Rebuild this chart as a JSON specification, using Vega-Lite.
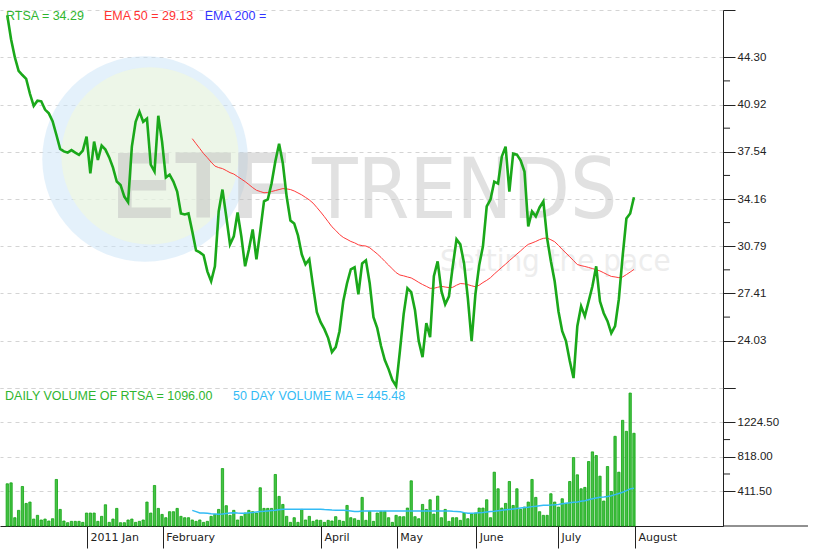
{
  "$schema": "https://vega.github.io/schema/vega-lite/v6.json",
  "padding": {"left": 0, "top": 9, "right": 0, "bottom": 0},
  "background": "white",
  "config": {"view": {"stroke": null}},
  "spacing": 0,
  "bounds": "flush",
  "datasets": {
    "d": [
      {"day":0,"close":47.30,"volume":499},{"day":1,"close":45.59,"volume":510},{"day":2,"close":44.30,"volume":98},{"day":3,"close":43.33,"volume":185},{"day":4,"close":43.03,"volume":467},{"day":5,"close":42.76,"volume":267},{"day":6,"close":41.69,"volume":283},{"day":7,"close":40.83,"volume":82},{"day":8,"close":41.20,"volume":126},{"day":9,"close":41.15,"volume":71},
      {"day":10,"close":40.56,"volume":82},{"day":11,"close":40.29,"volume":59},{"day":12,"close":39.73,"volume":86},{"day":13,"close":38.76,"volume":550},{"day":14,"close":37.75,"volume":196},{"day":15,"close":37.57,"volume":59},{"day":16,"close":37.48,"volume":39},{"day":17,"close":37.66,"volume":55},{"day":18,"close":37.48,"volume":55},{"day":19,"close":37.32,"volume":55},
      {"day":20,"close":37.62,"volume":43},{"day":21,"close":38.62,"volume":153},{"day":22,"close":36.00,"volume":153},{"day":23,"close":38.27,"volume":153},{"day":24,"close":36.96,"volume":55},{"day":25,"close":37.98,"volume":114},{"day":26,"close":37.70,"volume":251},{"day":27,"close":37.14,"volume":43},{"day":28,"close":36.41,"volume":82},{"day":29,"close":35.41,"volume":208},
      {"day":30,"close":35.17,"volume":39},{"day":31,"close":34.34,"volume":39},{"day":32,"close":33.94,"volume":71},{"day":33,"close":37.91,"volume":82},{"day":34,"close":39.69,"volume":43},{"day":35,"close":40.41,"volume":55},{"day":36,"close":39.69,"volume":71},{"day":37,"close":39.91,"volume":283},{"day":38,"close":36.63,"volume":153},{"day":39,"close":36.13,"volume":479},
      {"day":40,"close":40.12,"volume":208},{"day":41,"close":38.27,"volume":137},{"day":42,"close":35.70,"volume":98},{"day":43,"close":35.91,"volume":169},{"day":44,"close":35.41,"volume":169},{"day":45,"close":34.70,"volume":208},{"day":46,"close":33.13,"volume":114},{"day":47,"close":33.06,"volume":98},{"day":48,"close":33.13,"volume":98},
      {"day":49,"close":31.85,"volume":71,"ema50":38.48,"volma50":185},{"day":50,"close":30.49,"volume":55,"ema50":38.12,"volma50":170},{"day":51,"close":30.35,"volume":71,"ema50":37.77,"volma50":155},{"day":52,"close":30.14,"volume":43,"ema50":37.41,"volma50":153},{"day":53,"close":28.99,"volume":55,"ema50":37.12,"volma50":150},{"day":54,"close":28.28,"volume":114,"ema50":36.80,"volma50":146},{"day":55,"close":29.35,"volume":137,"ema50":36.52,"volma50":143},{"day":56,"close":33.27,"volume":196,"ema50":36.41,"volma50":139},{"day":57,"close":34.84,"volume":679,"ema50":36.34,"volma50":141},{"day":58,"close":32.92,"volume":240,"ema50":36.20,"volma50":147},{"day":59,"close":30.92,"volume":126,"ema50":36.05,"volma50":153},
      {"day":60,"close":31.49,"volume":185,"ema50":35.95,"volma50":157},{"day":61,"close":33.20,"volume":71,"ema50":35.77,"volma50":153},{"day":62,"close":31.49,"volume":114,"ema50":35.59,"volma50":151},{"day":63,"close":29.35,"volume":153,"ema50":35.41,"volma50":152},{"day":64,"close":30.56,"volume":185,"ema50":35.20,"volma50":157},{"day":65,"close":31.99,"volume":169,"ema50":34.98,"volma50":160},{"day":66,"close":29.85,"volume":153,"ema50":34.79,"volma50":165},{"day":67,"close":31.85,"volume":452,"ema50":34.70,"volma50":170},{"day":68,"close":33.99,"volume":208,"ema50":34.61,"volma50":173},{"day":69,"close":34.13,"volume":208,"ema50":34.63,"volma50":178},
      {"day":70,"close":35.27,"volume":208,"ema50":34.70,"volma50":183},{"day":71,"close":36.84,"volume":609,"ema50":34.77,"volma50":187},{"day":72,"close":38.12,"volume":350,"ema50":34.84,"volma50":192},{"day":73,"close":36.70,"volume":255,"ema50":34.91,"volma50":197},{"day":74,"close":34.34,"volume":114,"ema50":34.89,"volma50":197},{"day":75,"close":32.63,"volume":43,"ema50":34.84,"volma50":197},{"day":76,"close":32.42,"volume":98,"ema50":34.74,"volma50":197},{"day":77,"close":31.56,"volume":43,"ema50":34.60,"volma50":197},{"day":78,"close":30.21,"volume":196,"ema50":34.46,"volma50":197},{"day":79,"close":29.49,"volume":71,"ema50":34.28,"volma50":197},
      {"day":80,"close":29.85,"volume":114,"ema50":34.10,"volma50":197},{"day":81,"close":27.92,"volume":55,"ema50":33.87,"volma50":197},{"day":82,"close":26.07,"volume":71,"ema50":33.56,"volma50":197},{"day":83,"close":25.36,"volume":67,"ema50":33.24,"volma50":197},{"day":84,"close":24.86,"volume":43,"ema50":32.90,"volma50":194},{"day":85,"close":24.22,"volume":67,"ema50":32.54,"volma50":192},{"day":86,"close":23.22,"volume":59,"ema50":32.18,"volma50":188},{"day":87,"close":23.57,"volume":110,"ema50":31.92,"volma50":187},{"day":88,"close":24.71,"volume":67,"ema50":31.63,"volma50":186},{"day":89,"close":26.85,"volume":55,"ema50":31.42,"volma50":185},
      {"day":90,"close":28.14,"volume":243,"ema50":31.28,"volma50":184},{"day":91,"close":29.14,"volume":98,"ema50":31.13,"volma50":178},{"day":92,"close":29.28,"volume":86,"ema50":31.03,"volma50":172},{"day":93,"close":27.35,"volume":67,"ema50":30.89,"volma50":172},{"day":94,"close":29.56,"volume":338,"ema50":30.83,"volma50":177},{"day":95,"close":29.78,"volume":67,"ema50":30.80,"volma50":177},{"day":96,"close":28.14,"volume":173,"ema50":30.68,"volma50":177},{"day":97,"close":25.71,"volume":55,"ema50":30.46,"volma50":177},{"day":98,"close":24.93,"volume":153,"ema50":30.24,"volma50":177},{"day":99,"close":23.65,"volume":173,"ema50":29.99,"volma50":177},
      {"day":100,"close":22.65,"volume":173,"ema50":29.71,"volma50":177},{"day":101,"close":22.00,"volume":98,"ema50":29.44,"volma50":177},{"day":102,"close":21.22,"volume":43,"ema50":29.17,"volma50":177},{"day":103,"close":20.79,"volume":126,"ema50":28.90,"volma50":177},{"day":104,"close":23.29,"volume":110,"ema50":28.73,"volma50":177},{"day":105,"close":25.93,"volume":110,"ema50":28.67,"volma50":177},{"day":106,"close":27.78,"volume":212,"ema50":28.59,"volma50":177},{"day":107,"close":27.50,"volume":534,"ema50":28.52,"volma50":177},{"day":108,"close":26.21,"volume":110,"ema50":28.37,"volma50":177},{"day":109,"close":24.00,"volume":86,"ema50":28.20,"volma50":177},
      {"day":110,"close":22.86,"volume":255,"ema50":28.05,"volma50":177},{"day":111,"close":25.29,"volume":196,"ema50":27.92,"volma50":177},{"day":112,"close":24.29,"volume":310,"ema50":27.78,"volma50":177},{"day":113,"close":28.64,"volume":141,"ema50":27.78,"volma50":177},{"day":114,"close":29.71,"volume":353,"ema50":27.85,"volma50":177},{"day":115,"close":27.57,"volume":98,"ema50":27.92,"volma50":177},{"day":116,"close":26.64,"volume":196,"ema50":27.87,"volma50":177},{"day":117,"close":27.21,"volume":55,"ema50":27.83,"volma50":177},{"day":118,"close":29.35,"volume":98,"ema50":27.85,"volma50":174},{"day":119,"close":31.28,"volume":98,"ema50":28.00,"volma50":172},
      {"day":120,"close":30.92,"volume":67,"ema50":28.12,"volma50":168},{"day":121,"close":29.56,"volume":153,"ema50":28.10,"volma50":158},{"day":122,"close":27.07,"volume":86,"ema50":28.04,"volma50":150},{"day":123,"close":24.00,"volume":141,"ema50":27.96,"volma50":152},{"day":124,"close":27.35,"volume":153,"ema50":27.89,"volma50":154},{"day":125,"close":29.42,"volume":212,"ema50":28.00,"volma50":157},{"day":126,"close":30.78,"volume":212,"ema50":28.19,"volma50":160},{"day":127,"close":33.63,"volume":310,"ema50":28.35,"volma50":165},{"day":128,"close":34.13,"volume":98,"ema50":28.54,"volma50":170},{"day":129,"close":35.41,"volume":636,"ema50":28.80,"volma50":174},
      {"day":130,"close":35.27,"volume":440,"ema50":29.04,"volma50":180},{"day":131,"close":37.20,"volume":212,"ema50":29.28,"volma50":185},{"day":132,"close":37.91,"volume":267,"ema50":29.51,"volma50":191},{"day":133,"close":34.70,"volume":526,"ema50":29.76,"volma50":196},{"day":134,"close":37.41,"volume":243,"ema50":29.99,"volma50":201},{"day":135,"close":37.34,"volume":440,"ema50":30.23,"volma50":206},{"day":136,"close":36.91,"volume":196,"ema50":30.46,"volma50":212},{"day":137,"close":36.13,"volume":224,"ema50":30.71,"volma50":218},{"day":138,"close":32.20,"volume":283,"ema50":30.92,"volma50":223},{"day":139,"close":33.27,"volume":550,"ema50":31.02,"volma50":229},
      {"day":140,"close":32.92,"volume":338,"ema50":31.13,"volma50":233},{"day":141,"close":33.56,"volume":169,"ema50":31.26,"volma50":239},{"day":142,"close":33.99,"volume":126,"ema50":31.35,"volma50":244},{"day":143,"close":31.35,"volume":126,"ema50":31.38,"volma50":246},{"day":144,"close":29.71,"volume":381,"ema50":31.25,"volma50":247},{"day":145,"close":28.28,"volume":283,"ema50":31.11,"volma50":250},{"day":146,"close":26.14,"volume":224,"ema50":30.85,"volma50":254},{"day":147,"close":24.71,"volume":322,"ema50":30.56,"volma50":262},{"day":148,"close":24.00,"volume":267,"ema50":30.30,"volma50":269},{"day":149,"close":22.58,"volume":526,"ema50":30.03,"volma50":274},
      {"day":150,"close":21.36,"volume":809,"ema50":29.76,"volma50":280},{"day":151,"close":25.07,"volume":605,"ema50":29.48,"volma50":285},{"day":152,"close":26.50,"volume":440,"ema50":29.40,"volma50":292},{"day":153,"close":25.78,"volume":456,"ema50":29.34,"volma50":299},{"day":154,"close":26.85,"volume":762,"ema50":29.27,"volma50":310},{"day":155,"close":27.92,"volume":876,"ema50":29.19,"volma50":322},{"day":156,"close":29.35,"volume":833,"ema50":29.11,"volma50":332},{"day":157,"close":26.85,"volume":589,"ema50":29.02,"volma50":339},{"day":158,"close":26.00,"volume":295,"ema50":28.89,"volma50":344},{"day":159,"close":25.43,"volume":703,"ema50":28.75,"volma50":350},
      {"day":160,"close":24.57,"volume":408,"ema50":28.63,"volma50":358},{"day":161,"close":25.07,"volume":1060,"ema50":28.59,"volma50":371},{"day":162,"close":27.00,"volume":636,"ema50":28.54,"volma50":385},{"day":163,"close":30.06,"volume":1249,"ema50":28.59,"volma50":398},{"day":164,"close":32.77,"volume":1119,"ema50":28.76,"volma50":418},{"day":165,"close":33.13,"volume":1571,"ema50":28.94,"volma50":439},{"day":166,"close":34.29,"volume":1096,"ema50":29.13,"volma50":445.48}
    ],
    "minorPrice": [{"t":25.72},{"t":29.10},{"t":32.48},{"t":35.85},{"t":39.23},{"t":42.61}],
    "minorVol": [{"t":614.75},{"t":1021.25}]
  },
  "vconcat": [
    {
      "width": 723,
      "height": 378,
      "data": {"name": "d"},
      "layer": [
        {
          "data": {"values": [{}]},
          "mark": {"type": "point", "shape": "circle", "filled": true, "size": 42273, "color": "#c9e3f7", "opacity": 0.5, "strokeWidth": 0},
          "encoding": {
            "x": {"datum": 36.5, "type": "quantitative", "scale": {"domain": [-1.93, 189.59], "nice": false, "zero": false, "padding": 0}, "axis": null},
            "y": {
              "datum": 37.03, "type": "quantitative", "title": null,
              "scale": {"domain": [20.65, 47.68], "nice": false, "zero": false},
              "axis": {
                "orient": "right", "title": null,
                "values": [20.65, 24.03, 27.41, 30.79, 34.16, 37.54, 40.92, 44.30, 47.68],
                "labelExpr": "datum.value > 21 && datum.value < 47 ? format(datum.value, '.2f') : ''",
                "labelFontSize": {"condition": {"test": "datum.value < 21 || datum.value > 47", "value": 0}, "value": 11.5},
                "tickSize": 12, "tickColor": "#222", "domainColor": "#222",
                "labelColor": "#222", "labelFont": "Liberation Sans", "labelPadding": 2,
                "grid": true, "gridColor": "#d4d4d4", "gridDash": [4, 4],
                "labelFlush": false, "labelOverlap": false, "labelBound": false
              }
            }
          }
        },
        {
          "data": {"values": [{}]},
          "mark": {"type": "point", "shape": "circle", "filled": true, "size": 31416, "color": "#f6fbd5", "opacity": 0.5, "strokeWidth": 0},
          "encoding": {
            "x": {"datum": 37.8, "type": "quantitative", "scale": {"domain": [-1.93, 189.59], "nice": false, "zero": false, "padding": 0}, "axis": null},
            "y": {"datum": 37.25, "type": "quantitative", "title": null, "scale": {"domain": [20.65, 47.68], "nice": false, "zero": false}}
          }
        },
        {
          "data": {"values": [{}]},
          "mark": {"type": "text", "text": "ETF", "align": "left", "baseline": "alphabetic", "font": "Liberation Sans", "fontWeight": "bold", "fontSize": 94, "color": "#c0c0c0", "opacity": 0.5},
          "encoding": {
            "x": {"datum": 27.7, "type": "quantitative", "scale": {"domain": [-1.93, 189.59], "nice": false, "zero": false, "padding": 0}, "axis": null},
            "y": {"datum": 32.82, "type": "quantitative", "title": null, "scale": {"domain": [20.65, 47.68], "nice": false, "zero": false}}
          }
        },
        {
          "data": {"values": [{}]},
          "mark": {"type": "text", "text": "TRENDS", "align": "left", "baseline": "alphabetic", "font": "DejaVu Sans Condensed, DejaVu Sans", "fontSize": 83, "color": "#c4c4c4", "opacity": 0.5},
          "encoding": {
            "x": {"datum": 80.7, "type": "quantitative", "scale": {"domain": [-1.93, 189.59], "nice": false, "zero": false, "padding": 0}, "axis": null},
            "y": {"datum": 32.82, "type": "quantitative", "title": null, "scale": {"domain": [20.65, 47.68], "nice": false, "zero": false}}
          }
        },
        {
          "data": {"values": [{}]},
          "mark": {"type": "text", "text": "Setting the pace", "align": "left", "baseline": "alphabetic", "font": "DejaVu Sans Condensed, DejaVu Sans", "fontSize": 31, "color": "#dcdcdc", "opacity": 0.5},
          "encoding": {
            "x": {"datum": 114.6, "type": "quantitative", "scale": {"domain": [-1.93, 189.59], "nice": false, "zero": false, "padding": 0}, "axis": null},
            "y": {"datum": 29.03, "type": "quantitative", "title": null, "scale": {"domain": [20.65, 47.68], "nice": false, "zero": false}}
          }
        },
        {
          "transform": [{"filter": "isValid(datum.ema50)"}],
          "mark": {"type": "line", "color": "#ff3b3b", "strokeWidth": 1},
          "encoding": {
            "x": {"field": "day", "type": "quantitative", "scale": {"domain": [-1.93, 189.59], "nice": false, "zero": false, "padding": 0}, "axis": null},
            "y": {"field": "ema50", "type": "quantitative", "title": null, "scale": {"domain": [20.65, 47.68], "nice": false, "zero": false}}
          }
        },
        {
          "mark": {"type": "line", "color": "#1aa81a", "strokeWidth": 2.6},
          "encoding": {
            "x": {"field": "day", "type": "quantitative", "scale": {"domain": [-1.93, 189.59], "nice": false, "zero": false, "padding": 0}, "axis": null},
            "y": {"field": "close", "type": "quantitative", "title": null, "scale": {"domain": [20.65, 47.68], "nice": false, "zero": false}}
          }
        },
        {
          "data": {"name": "minorPrice"},
          "mark": {"type": "rule", "color": "#222", "strokeWidth": 1},
          "encoding": {
            "x": {"datum": 189.59, "type": "quantitative", "scale": {"domain": [-1.93, 189.59], "nice": false, "zero": false, "padding": 0}, "axis": null},
            "x2": {"datum": 191.45},
            "y": {"field": "t", "type": "quantitative", "title": null, "scale": {"domain": [20.65, 47.68], "nice": false, "zero": false}}
          }
        },
        {
          "data": {"values": [{}]},
          "mark": {"type": "text", "text": "RTSA = 34.29", "align": "left", "baseline": "middle", "font": "Liberation Sans", "fontSize": 12.5, "color": "#2fb52f"},
          "encoding": {
            "x": {"datum": -0.34, "type": "quantitative", "scale": {"domain": [-1.93, 189.59], "nice": false, "zero": false, "padding": 0}, "axis": null},
            "y": {"datum": 47.25, "type": "quantitative", "title": null, "scale": {"domain": [20.65, 47.68], "nice": false, "zero": false}}
          }
        },
        {
          "data": {"values": [{}]},
          "mark": {"type": "text", "text": "EMA 50 = 29.13", "align": "left", "baseline": "middle", "font": "Liberation Sans", "fontSize": 12.5, "color": "#ff3333"},
          "encoding": {
            "x": {"datum": 25.6, "type": "quantitative", "scale": {"domain": [-1.93, 189.59], "nice": false, "zero": false, "padding": 0}, "axis": null},
            "y": {"datum": 47.25, "type": "quantitative", "title": null, "scale": {"domain": [20.65, 47.68], "nice": false, "zero": false}}
          }
        },
        {
          "data": {"values": [{}]},
          "mark": {"type": "text", "text": "EMA 200 =", "align": "left", "baseline": "middle", "font": "Liberation Sans", "fontSize": 12.5, "color": "#3333ff"},
          "encoding": {
            "x": {"datum": 52.3, "type": "quantitative", "scale": {"domain": [-1.93, 189.59], "nice": false, "zero": false, "padding": 0}, "axis": null},
            "y": {"datum": 47.25, "type": "quantitative", "title": null, "scale": {"domain": [20.65, 47.68], "nice": false, "zero": false}}
          }
        }
      ]
    },
    {
      "width": 723,
      "height": 138,
      "data": {"name": "d"},
      "layer": [
        {
          "mark": {"type": "bar", "orient": "vertical", "size": 2.3, "color": "#45c245", "stroke": "#10a510", "strokeWidth": 0.8},
          "encoding": {
            "x": {
              "field": "day", "type": "quantitative", "title": null,
              "scale": {"domain": [-1.93, 189.59], "nice": false, "zero": false, "padding": 0},
              "axis": {
                "orient": "bottom", "title": null, "grid": false,
                "values": [21.1, 41.2, 83.1, 103.2, 124.2, 145.9, 166.3],
                "labelExpr": "datum.value < 30 ? '2011 Jan' : datum.value < 60 ? 'February' : datum.value < 90 ? 'April' : datum.value < 110 ? 'May' : datum.value < 130 ? 'June' : datum.value < 150 ? 'July' : 'August'",
                "tickSize": 22, "tickColor": "#222", "domainColor": "#222",
                "labelAlign": "left", "labelBaseline": "middle", "labelOffset": 3, "labelPadding": -11,
                "labelFont": "DejaVu Sans", "labelFontSize": 11, "labelColor": "#222",
                "labelFlush": false, "labelOverlap": false, "labelBound": false
              }
            },
            "y": {
              "field": "volume", "type": "quantitative", "title": null,
              "scale": {"domain": [0, 1631], "nice": false},
              "axis": {
                "orient": "right", "title": null,
                "values": [411.5, 818, 1224.5, 1631],
                "labelExpr": "datum.value < 1600 ? format(datum.value, '.2f') : ''",
                "labelFontSize": {"condition": {"test": "datum.value > 1600", "value": 0}, "value": 11.5},
                "tickSize": 12, "tickColor": "#222", "domainColor": "#222",
                "labelColor": "#222", "labelFont": "Liberation Sans", "labelPadding": 2,
                "grid": true, "gridColor": "#d4d4d4", "gridDash": [4, 4],
                "labelFlush": false, "labelOverlap": false, "labelBound": false
              }
            }
          }
        },
        {
          "transform": [{"filter": "isValid(datum.volma50)"}],
          "mark": {"type": "line", "color": "#33bbf5", "strokeWidth": 1.5},
          "encoding": {
            "x": {"field": "day", "type": "quantitative", "title": null, "scale": {"domain": [-1.93, 189.59], "nice": false, "zero": false, "padding": 0}},
            "y": {"field": "volma50", "type": "quantitative", "title": null, "scale": {"domain": [0, 1631], "nice": false}}
          }
        },
        {
          "data": {"name": "minorVol"},
          "mark": {"type": "rule", "color": "#222", "strokeWidth": 1},
          "encoding": {
            "x": {"datum": 189.59, "type": "quantitative", "title": null, "scale": {"domain": [-1.93, 189.59], "nice": false, "zero": false, "padding": 0}},
            "x2": {"datum": 191.45},
            "y": {"field": "t", "type": "quantitative", "title": null, "scale": {"domain": [0, 1631], "nice": false}}
          }
        },
        {
          "data": {"values": [{}]},
          "mark": {"type": "rule", "color": "#222", "strokeWidth": 1},
          "encoding": {
            "x": {"datum": 189.59, "type": "quantitative", "title": null, "scale": {"domain": [-1.93, 189.59], "nice": false, "zero": false, "padding": 0}},
            "x2": {"datum": 212.1},
            "y": {"datum": 0, "type": "quantitative", "title": null, "scale": {"domain": [0, 1631], "nice": false}}
          }
        },
        {
          "data": {"values": [{}]},
          "mark": {"type": "text", "text": "DAILY VOLUME OF RTSA = 1096.00", "align": "left", "baseline": "middle", "font": "Liberation Sans", "fontSize": 12.5, "color": "#2fb52f"},
          "encoding": {
            "x": {"datum": -0.6, "type": "quantitative", "title": null, "scale": {"domain": [-1.93, 189.59], "nice": false, "zero": false, "padding": 0}},
            "y": {"datum": 1531, "type": "quantitative", "title": null, "scale": {"domain": [0, 1631], "nice": false}}
          }
        },
        {
          "data": {"values": [{}]},
          "mark": {"type": "text", "text": "50 DAY VOLUME MA = 445.48", "align": "left", "baseline": "middle", "font": "Liberation Sans", "fontSize": 12.5, "color": "#33bbf5"},
          "encoding": {
            "x": {"datum": 59.8, "type": "quantitative", "title": null, "scale": {"domain": [-1.93, 189.59], "nice": false, "zero": false, "padding": 0}},
            "y": {"datum": 1531, "type": "quantitative", "title": null, "scale": {"domain": [0, 1631], "nice": false}}
          }
        }
      ]
    }
  ]
}
